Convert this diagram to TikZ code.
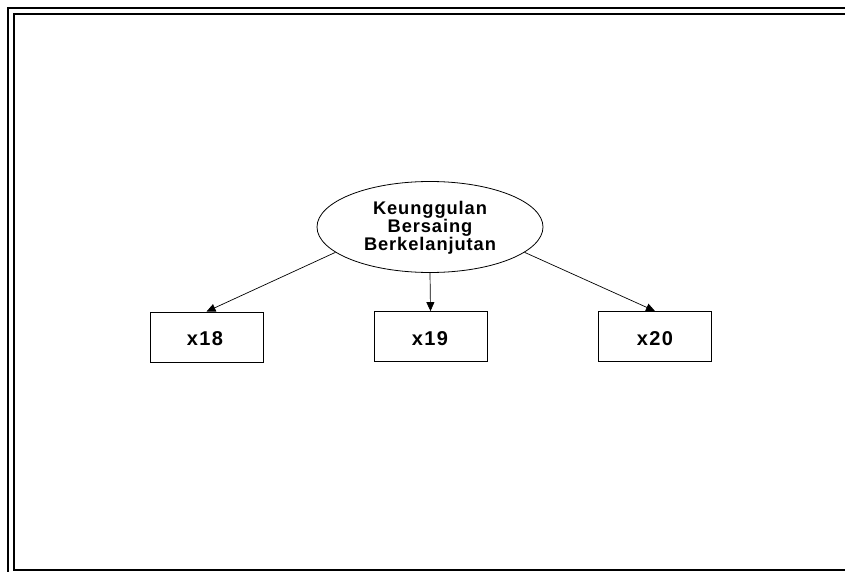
\documentclass[tikz,border=0pt]{standalone}
\usepackage{fontspec}
\setmainfont{Liberation Sans}
\newfontfamily\latentfont{Liberation Sans Bold}[LetterSpace=5]
\newfontfamily\itemfont{Liberation Sans Bold}[LetterSpace=7]
\usetikzlibrary{shapes.geometric,arrows.meta}

\tikzset{
  frameline/.style={line width=2pt, draw=black},
  latent/.style={ellipse, draw=black, line width=0.8pt, minimum width=226pt,
    minimum height=91pt, inner sep=0pt, align=center,
    font=\latentfont\fontsize{18.3pt}{17.8pt}\selectfont},
  indicator/.style={rectangle, draw=black, line width=0.8pt, minimum width=113pt,
    minimum height=50pt, inner sep=0pt,
    font=\itemfont\fontsize{20pt}{20pt}\selectfont},
  loading/.style={draw=black, line width=0.7pt, -{Triangle[length=9pt,width=8pt]}},
}

\begin{document}
\begin{tikzpicture}[x=1pt,y=1pt]
  \useasboundingbox (0,0) rectangle (845,-572);
  \clip (0,0) rectangle (845,-572);

  % double-ruled page frame
  \draw[frameline] (8,-8) rectangle (854,-575.5);
  \draw[frameline] (14,-14) rectangle (848,-569.5);

  % latent construct
  \node[latent] (kbb) at (430,-227) {};
  \node[font=\latentfont\fontsize{18.3pt}{17.8pt}\selectfont, align=center,
    inner sep=0pt] (kbbtext) at (430,-228) {Keunggulan\\Bersaing\\Berkelanjutan};

  % indicators
  \node[indicator] (x18) at (206.5,-337) {};
  \node[indicator] (x19) at (430.5,-336.5) {};
  \node[indicator] (x20) at (655,-336.5) {};
  \node[font=\itemfont\fontsize{20pt}{20pt}\selectfont] (x18label) at (205,-339) {x18};
  \node[font=\itemfont\fontsize{20pt}{20pt}\selectfont] (x19label) at (430,-339) {x19};
  \node[font=\itemfont\fontsize{20pt}{20pt}\selectfont] (x20label) at (655,-339) {x20};

  % loadings
  \draw[loading] (kbb.195) -- (x18.north);
  \draw[loading] (kbb.south) -- (x19.north);
  \draw[loading] (kbb.345) -- (x20.north);
\end{tikzpicture}
\end{document}
